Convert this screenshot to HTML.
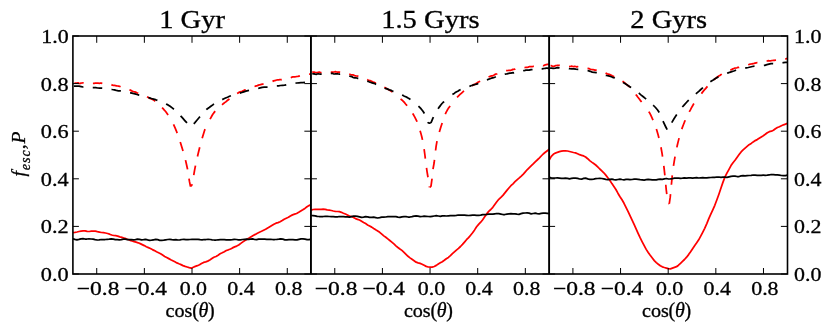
<!DOCTYPE html>
<html>
<head>
<meta charset="utf-8">
<title>f_esc, P versus cos(theta)</title>
<style>
html, body { margin: 0; padding: 0; background: #ffffff; }
body { width: 831px; height: 333px; overflow: hidden; font-family: "Liberation Serif", serif; }
svg { display: block; will-change: transform; }
svg text { font-family: "Liberation Serif", serif; fill: #000; stroke: #000; stroke-width: 0.3px; }
</style>
</head>
<body>
<svg width="831" height="333" viewBox="0 0 831 333">
<rect x="0" y="0" width="831" height="333" fill="#ffffff"/>
<defs>
<clipPath id="c0"><rect x="72.90" y="36.00" width="238.20" height="238.00"/></clipPath>
<clipPath id="c1"><rect x="310.95" y="36.00" width="238.20" height="238.00"/></clipPath>
<clipPath id="c2"><rect x="549.10" y="36.00" width="238.20" height="238.00"/></clipPath>
</defs>
<g fill="none" stroke-width="1.75" stroke-linejoin="round" stroke-linecap="butt">
<path d="M72.9 82.8 L73.9 82.9 L74.9 83.0 L75.9 83.1 L77.0 83.0 L78.0 82.8 L79.0 83.3 L80.0 83.5 L81.0 83.1 L82.0 83.0 L83.0 82.9 L84.1 83.0 L85.1 83.2 L86.1 83.1 L87.1 82.9 L88.1 82.9 L89.1 82.8 L90.1 82.9 L91.1 83.3 L92.2 83.4 L93.2 83.4 L94.2 83.3 L95.2 83.1 L96.2 83.1 L97.2 83.1 L98.2 83.2 L99.3 83.3 L100.3 83.2 L101.3 83.1 L102.3 83.5 L103.3 83.9 L104.3 83.7 L105.3 83.7 L106.4 84.2 L107.4 84.4 L108.4 84.2 L109.4 84.3 L110.4 84.4 L111.4 84.6 L112.4 85.1 L113.5 85.3 L114.5 85.4 L115.5 85.6 L116.5 85.8 L117.5 86.0 L118.5 86.1 L119.5 86.3 L120.5 86.7 L121.6 87.2 L122.6 87.5 L123.6 87.8 L124.6 88.1 L125.6 88.4 L126.6 88.8 L127.6 89.2 L128.7 89.6 L129.7 89.9 L130.7 90.4 L131.7 90.9 L132.7 91.3 L133.7 91.6 L134.7 91.8 L135.8 92.1 L136.8 92.8 L137.8 93.2 L138.8 93.5 L139.8 93.9 L140.8 94.3 L141.8 94.7 L142.9 95.1 L143.9 95.4 L144.9 95.8 L145.9 96.2 L146.9 96.7 L147.9 97.2 L148.9 97.8 L149.9 98.4 L151.0 98.8 L152.0 99.1 L153.0 99.6 L154.0 100.4 L155.0 101.1 L156.0 102.0 L157.0 102.8 L158.1 103.5 L159.1 104.4 L160.1 105.6 L161.1 106.6 L162.1 107.7 L163.1 108.7 L164.1 109.8 L165.2 111.0 L166.2 112.3 L167.2 113.7 L168.2 115.1 L169.2 116.7 L170.2 118.4" stroke="#ff0000" stroke-dasharray="9.5 9.4" stroke-dashoffset="17.38" clip-path="url(#c0)"/>
<path d="M170.2 118.4 L171.2 120.1 L172.3 121.9 L173.3 123.9 L174.3 126.1 L175.3 128.4 L176.3 130.8 L177.3 133.5 L178.3 136.3 L179.3 139.4 L180.4 142.5 L181.4 145.7 L182.4 149.0 L183.4 152.4 L184.4 155.8 L185.4 159.7 L186.4 164.0 L187.5 169.0 L188.5 175.6 L189.5 181.7 L190.5 186.6" stroke="#ff0000" stroke-dasharray="9.5 9.4" stroke-dashoffset="12.08" clip-path="url(#c0)"/>
<path d="M311.1 74.5 L310.1 74.2 L309.1 74.2 L308.1 74.6 L307.0 74.7 L306.0 75.0 L305.0 75.5 L304.0 75.8 L303.0 75.8 L302.0 75.7 L301.0 75.9 L300.0 76.0 L298.9 76.1 L297.9 76.4 L296.9 76.5 L295.9 76.7 L294.9 76.8 L293.9 76.9 L292.9 76.9 L291.8 77.2 L290.8 77.7 L289.8 78.0 L288.8 77.9 L287.8 77.8 L286.8 78.0 L285.8 78.5 L284.8 79.0 L283.7 79.1 L282.7 79.2 L281.7 79.6 L280.7 79.6 L279.7 79.7 L278.7 79.9 L277.7 79.9 L276.6 80.0 L275.6 80.4 L274.6 80.6 L273.6 80.9 L272.6 81.4 L271.6 81.9 L270.6 82.0 L269.5 82.0 L268.5 82.3 L267.5 82.7 L266.5 82.9 L265.5 83.3 L264.5 83.8 L263.5 84.0 L262.5 84.1 L261.4 84.4 L260.4 84.7 L259.4 84.8 L258.4 85.1 L257.4 85.6 L256.4 85.9 L255.4 86.2 L254.3 86.6 L253.3 87.1 L252.3 87.3 L251.3 87.5 L250.3 88.0 L249.3 88.5 L248.3 89.0 L247.3 89.4 L246.2 89.6 L245.2 89.9 L244.2 90.4 L243.2 90.9 L242.2 91.4 L241.2 91.6 L240.2 91.9 L239.1 92.4 L238.1 92.9 L237.1 93.5 L236.1 94.1 L235.1 94.8 L234.1 95.5 L233.1 96.2 L232.1 96.7 L231.0 97.4 L230.0 98.4 L229.0 99.2 L228.0 100.0 L227.0 100.8 L226.0 101.7 L225.0 102.4 L223.9 103.2 L222.9 104.0 L221.9 105.0 L220.9 105.9 L219.9 106.6 L218.9 107.4 L217.9 108.4 L216.8 109.4 L215.8 110.4 L214.8 111.6 L213.8 112.9 L212.8 114.3 L211.8 116.0 L210.8 117.8 L209.8 119.6 L208.7 121.4 L207.7 123.3" stroke="#ff0000" stroke-dasharray="9.5 9.4" stroke-dashoffset="7.46" clip-path="url(#c0)"/>
<path d="M207.7 123.3 L206.7 125.2 L205.7 127.5 L204.7 130.1 L203.7 133.2 L202.7 136.5 L201.6 140.1 L200.6 143.9 L199.6 147.7 L198.6 151.7 L197.6 156.0 L196.6 160.4 L195.6 165.1 L194.6 170.2 L193.5 176.4 L192.5 184.0 L191.5 185.6 L190.5 186.2" stroke="#ff0000" stroke-dasharray="9.5 9.4" stroke-dashoffset="12.47" clip-path="url(#c0)"/>
<path d="M72.9 232.6 L74.9 232.4 L77.0 232.0 L79.0 231.5 L81.1 231.1 L83.1 230.8 L85.1 230.9 L87.2 231.4 L89.2 231.5 L91.3 231.2 L93.3 231.1 L95.3 231.2 L97.4 231.7 L99.4 232.1 L101.5 232.5 L103.5 232.7 L105.5 233.0 L107.6 233.5 L109.6 234.2 L111.7 235.0 L113.7 235.5 L115.7 235.7 L117.8 236.1 L119.8 236.8 L121.9 237.4 L123.9 238.0 L125.9 238.7 L128.0 239.5 L130.0 240.3 L132.1 241.0 L134.1 241.6 L136.1 242.2 L138.2 242.8 L140.2 243.6 L142.2 244.6 L144.3 245.6 L146.3 246.7 L148.4 247.6 L150.4 248.5 L152.4 249.6 L154.5 250.6 L156.5 251.7 L158.6 252.7 L160.6 253.7 L162.6 255.0 L164.7 256.4 L166.7 257.5 L168.8 258.6 L170.8 259.7 L172.8 260.7 L174.9 261.8 L176.9 262.9 L179.0 263.8 L181.0 264.6 L183.0 265.6 L185.1 266.4 L187.1 267.0 L189.2 267.7 L191.2 268.2 L193.3 267.3 L195.3 266.4 L197.4 265.7 L199.5 264.8 L201.5 263.6 L203.6 262.4 L205.7 261.8 L207.7 261.1 L209.8 260.0 L211.9 258.6 L213.9 257.3 L216.0 256.5 L218.1 255.2 L220.1 253.8 L222.2 252.8 L224.3 251.7 L226.3 250.5 L228.4 249.8 L230.5 249.0 L232.5 247.9 L234.6 246.9 L236.7 246.1 L238.7 245.0 L240.8 243.4 L242.9 241.9 L244.9 240.5 L247.0 239.2 L249.1 238.0 L251.2 236.7 L253.2 235.5 L255.3 234.4 L257.4 233.2 L259.4 232.2 L261.5 231.3 L263.6 230.3 L265.6 229.3 L267.7 228.0 L269.8 226.8 L271.8 225.6 L273.9 224.3 L276.0 223.2 L278.0 222.6 L280.1 221.7 L282.2 220.5 L284.2 219.2 L286.3 218.2 L288.4 217.3 L290.4 216.0 L292.5 214.9 L294.6 214.2 L296.6 213.5 L298.7 212.3 L300.8 211.0 L302.8 209.8 L304.9 208.4 L307.0 206.7 L309.0 205.6 L311.1 204.6" stroke="#ff0000" clip-path="url(#c0)"/>
<path d="M311.1 72.2 L312.1 71.9 L313.1 72.1 L314.1 72.2 L315.2 72.4 L316.2 72.5 L317.2 72.5 L318.2 72.3 L319.2 72.1 L320.2 72.4 L321.3 72.7 L322.3 72.5 L323.3 72.2 L324.3 72.3 L325.3 72.4 L326.3 72.0 L327.4 72.0 L328.4 72.2 L329.4 72.2 L330.4 72.0 L331.4 72.0 L332.4 72.0 L333.5 72.0 L334.5 71.9 L335.5 71.7 L336.5 72.0 L337.5 72.2 L338.5 72.0 L339.6 72.2 L340.6 72.4 L341.6 72.4 L342.6 72.6 L343.6 72.8 L344.6 73.4 L345.7 73.9 L346.7 74.0 L347.7 73.9 L348.7 74.1 L349.7 74.3 L350.7 74.6 L351.8 74.8 L352.8 74.9 L353.8 75.2 L354.8 75.6 L355.8 75.9 L356.8 76.0 L357.9 76.2 L358.9 76.6 L359.9 77.0 L360.9 77.3 L361.9 77.6 L362.9 77.7 L364.0 78.0 L365.0 78.7 L366.0 79.2 L367.0 79.5 L368.0 80.0 L369.0 80.4 L370.1 80.7 L371.1 81.0 L372.1 81.5 L373.1 82.0 L374.1 82.4 L375.1 82.8 L376.1 83.2 L377.2 83.6 L378.2 84.2 L379.2 84.6 L380.2 85.0 L381.2 85.6 L382.2 86.3 L383.3 86.8 L384.3 87.2 L385.3 87.8 L386.3 88.4 L387.3 88.9 L388.3 89.5 L389.4 90.1 L390.4 90.7 L391.4 91.4 L392.4 92.1 L393.4 92.8 L394.4 93.5 L395.5 94.4 L396.5 95.3" stroke="#ff0000" stroke-dasharray="9.5 9.4" stroke-dashoffset="17.70" clip-path="url(#c1)"/>
<path d="M396.5 95.3 L397.5 96.1 L398.5 97.0 L399.5 97.9 L400.5 98.8 L401.6 99.8 L402.6 100.6 L403.6 101.6 L404.6 102.7 L405.6 104.0 L406.6 105.1 L407.7 106.2 L408.7 107.5 L409.7 109.0 L410.7 110.6 L411.7 112.1 L412.7 113.6 L413.8 115.3 L414.8 117.1 L415.8 119.1 L416.8 121.2 L417.8 123.7 L418.8 126.7 L419.9 130.0 L420.9 133.4 L421.9 137.2 L422.9 141.7 L423.9 147.5 L424.9 155.0 L426.0 164.1 L427.0 171.3 L428.0 177.4 L429.0 187.2" stroke="#ff0000" stroke-dasharray="9.5 9.4" stroke-dashoffset="13.43" clip-path="url(#c1)"/>
<path d="M549.3 64.2 L548.3 64.3 L547.3 64.4 L546.3 64.6 L545.3 64.9 L544.2 65.3 L543.2 65.6 L542.2 65.4 L541.2 65.3 L540.2 66.0 L539.2 66.1 L538.2 65.9 L537.2 66.0 L536.2 66.2 L535.1 66.1 L534.1 66.1 L533.1 66.4 L532.1 66.6 L531.1 66.6 L530.1 66.6 L529.1 66.7 L528.1 67.1 L527.1 67.3 L526.0 67.4 L525.0 67.5 L524.0 67.6 L523.0 67.6 L522.0 67.4 L521.0 67.6 L520.0 68.1 L519.0 68.2 L518.0 68.2 L517.0 68.4 L515.9 68.7 L514.9 69.2 L513.9 69.3 L512.9 69.4 L511.9 69.9 L510.9 70.3 L509.9 70.3 L508.9 70.3 L507.9 70.5 L506.8 70.6 L505.8 70.8 L504.8 71.1 L503.8 71.4 L502.8 72.0 L501.8 72.5 L500.8 72.8 L499.8 72.9 L498.8 73.2 L497.7 73.7 L496.7 74.0 L495.7 74.1 L494.7 74.6 L493.7 75.3 L492.7 75.8 L491.7 75.9 L490.7 76.1 L489.7 76.5 L488.6 77.0 L487.6 77.5 L486.6 78.1 L485.6 78.4 L484.6 78.8 L483.6 79.6 L482.6 80.1 L481.6 80.6 L480.6 81.1 L479.5 81.5 L478.5 82.0 L477.5 82.6 L476.5 83.3 L475.5 84.0 L474.5 84.4 L473.5 84.9 L472.5 85.4 L471.5 86.0 L470.4 86.6 L469.4 87.3 L468.4 88.0 L467.4 88.7 L466.4 89.3 L465.4 89.8 L464.4 90.6 L463.4 91.4 L462.4 92.3 L461.3 93.3 L460.3 94.2 L459.3 95.1 L458.3 96.1 L457.3 97.1 L456.3 98.1 L455.3 99.2 L454.3 100.4" stroke="#ff0000" stroke-dasharray="9.5 9.4" stroke-dashoffset="2.89" clip-path="url(#c1)"/>
<path d="M454.3 100.4 L453.3 101.7 L452.3 103.1 L451.2 104.4 L450.2 105.8 L449.2 107.2 L448.2 108.6 L447.2 110.3 L446.2 112.1 L445.2 114.2 L444.2 117.0 L443.2 120.1 L442.1 123.3 L441.1 126.3 L440.1 129.4 L439.1 132.8 L438.1 136.4 L437.1 140.6 L436.1 146.3 L435.1 154.6 L434.1 163.0 L433.0 169.2 L432.0 178.9 L431.0 186.2 L430.0 187.1 L429.0 187.2" stroke="#ff0000" stroke-dasharray="9.5 9.4" stroke-dashoffset="11.97" clip-path="url(#c1)"/>
<path d="M311.1 210.1 L313.1 209.5 L315.1 209.4 L317.2 209.4 L319.2 209.4 L321.2 209.4 L323.2 209.2 L325.2 209.3 L327.2 209.9 L329.3 210.2 L331.3 210.5 L333.3 211.0 L335.3 211.4 L337.3 211.5 L339.4 211.6 L341.4 212.3 L343.4 213.2 L345.4 214.0 L347.4 215.0 L349.5 216.0 L351.5 216.5 L353.5 217.4 L355.5 218.6 L357.5 219.3 L359.5 220.0 L361.6 221.3 L363.6 222.5 L365.6 223.6 L367.6 224.9 L369.6 226.0 L371.7 227.1 L373.7 228.5 L375.7 229.8 L377.7 231.0 L379.7 232.3 L381.8 234.1 L383.8 235.9 L385.8 237.3 L387.8 238.9 L389.8 240.5 L391.8 242.1 L393.9 243.9 L395.9 245.8 L397.9 247.5 L399.9 249.0 L401.9 250.4 L404.0 252.3 L406.0 254.3 L408.0 256.3 L410.0 257.9 L412.0 259.3 L414.1 260.8 L416.1 262.2 L418.1 262.9 L420.1 263.4 L422.1 264.2 L424.1 265.3 L426.2 266.4 L428.2 267.0 L430.2 267.2 L432.2 267.1 L434.2 266.5 L436.3 265.4 L438.3 264.0 L440.3 262.8 L442.3 261.7 L444.3 260.3 L446.3 258.7 L448.4 257.4 L450.4 255.7 L452.4 253.7 L454.4 251.9 L456.4 250.1 L458.5 248.4 L460.5 246.5 L462.5 244.4 L464.5 242.1 L466.5 239.7 L468.6 237.6 L470.6 235.2 L472.6 232.7 L474.6 229.9 L476.6 226.8 L478.6 224.4 L480.7 222.2 L482.7 219.7 L484.7 216.8 L486.7 213.9 L488.7 211.4 L490.8 209.5 L492.8 207.3 L494.8 204.6 L496.8 201.8 L498.8 199.3 L500.9 197.4 L502.9 195.4 L504.9 192.9 L506.9 190.4 L508.9 188.0 L510.9 185.7 L513.0 183.8 L515.0 181.7 L517.0 179.8 L519.0 178.1 L521.0 176.3 L523.1 174.3 L525.1 172.1 L527.1 169.8 L529.1 167.8 L531.1 165.9 L533.2 163.9 L535.2 161.8 L537.2 160.0 L539.2 158.1 L541.2 156.0 L543.2 154.0 L545.3 152.3 L547.3 150.7 L549.3 149.1" stroke="#ff0000" clip-path="url(#c1)"/>
<path d="M549.3 65.4 L550.3 65.6 L551.3 65.7 L552.3 66.1 L553.4 66.4 L554.4 66.1 L555.4 65.7 L556.4 65.5 L557.4 65.4 L558.4 65.3 L559.5 65.3 L560.5 65.5 L561.5 65.7 L562.5 65.8 L563.5 65.7 L564.5 65.6 L565.6 65.7 L566.6 66.1 L567.6 66.4 L568.6 66.4 L569.6 66.5 L570.6 66.4 L571.7 66.2 L572.7 66.5 L573.7 66.6 L574.7 66.3 L575.7 66.5 L576.7 66.8 L577.8 66.7 L578.8 66.8 L579.8 66.9 L580.8 66.9 L581.8 67.0 L582.8 67.1 L583.8 67.2 L584.9 67.5 L585.9 67.8 L586.9 68.2 L587.9 68.3 L588.9 68.5 L589.9 69.1 L591.0 69.4 L592.0 69.5 L593.0 69.5 L594.0 69.8 L595.0 70.1 L596.0 70.2 L597.1 70.4 L598.1 71.0 L599.1 71.4 L600.1 71.4 L601.1 71.7 L602.1 72.1 L603.2 72.4 L604.2 72.7 L605.2 72.9 L606.2 73.4 L607.2 73.9 L608.2 74.1 L609.2 74.4 L610.3 74.9 L611.3 75.4 L612.3 75.9 L613.3 76.3 L614.3 76.7 L615.3 77.2 L616.4 77.7 L617.4 78.1 L618.4 78.5 L619.4 79.2 L620.4 79.9 L621.4 80.6 L622.5 81.4 L623.5 81.9 L624.5 82.6 L625.5 83.6 L626.5 84.4 L627.5 85.2 L628.6 86.0 L629.6 86.9 L630.6 88.0 L631.6 89.3 L632.6 90.5 L633.6 91.7 L634.7 93.0 L635.7 94.3 L636.7 95.6 L637.7 97.0 L638.7 98.2 L639.7 99.5 L640.7 100.9 L641.8 102.3 L642.8 103.6 L643.8 104.8 L644.8 106.0" stroke="#ff0000" stroke-dasharray="9.5 9.4" stroke-dashoffset="17.62" clip-path="url(#c2)"/>
<path d="M644.8 106.0 L645.8 107.3 L646.8 108.5 L647.9 110.0 L648.9 111.7 L649.9 113.4 L650.9 115.4 L651.9 117.6 L652.9 119.8 L654.0 122.2 L655.0 124.9 L656.0 127.7 L657.0 130.9 L658.0 134.4 L659.0 138.4 L660.1 142.9 L661.1 148.0 L662.1 153.7 L663.1 160.4 L664.1 168.4 L665.1 177.5 L666.2 189.5 L667.2 197.4 L668.2 202.2 L669.2 204.2" stroke="#ff0000" stroke-dasharray="9.5 9.4" stroke-dashoffset="11.96" clip-path="url(#c2)"/>
<path d="M787.5 58.2 L786.5 58.6 L785.5 58.9 L784.5 58.9 L783.5 58.8 L782.4 59.1 L781.4 59.1 L780.4 59.1 L779.4 59.3 L778.4 59.7 L777.4 59.9 L776.4 60.0 L775.4 60.2 L774.4 60.4 L773.3 60.4 L772.3 60.5 L771.3 60.7 L770.3 60.8 L769.3 60.8 L768.3 60.7 L767.3 61.0 L766.3 61.2 L765.3 61.2 L764.2 61.4 L763.2 61.6 L762.2 61.7 L761.2 62.0 L760.2 62.4 L759.2 62.7 L758.2 62.7 L757.2 62.7 L756.2 62.8 L755.1 63.1 L754.1 63.4 L753.1 63.6 L752.1 63.8 L751.1 64.0 L750.1 64.2 L749.1 64.5 L748.1 64.8 L747.1 65.0 L746.0 65.2 L745.0 65.2 L744.0 65.4 L743.0 65.8 L742.0 66.3 L741.0 66.6 L740.0 67.0 L739.0 67.3 L738.0 67.4 L736.9 67.8 L735.9 68.0 L734.9 68.1 L733.9 68.5 L732.9 68.9 L731.9 69.4 L730.9 69.8 L729.9 70.1 L728.9 70.6 L727.8 71.2 L726.8 71.7 L725.8 72.1 L724.8 72.6 L723.8 73.2 L722.8 73.7 L721.8 74.1 L720.8 74.8 L719.8 75.5 L718.7 76.1 L717.7 76.7 L716.7 77.5 L715.7 78.4 L714.7 79.2 L713.7 80.0 L712.7 81.0 L711.7 81.9 L710.7 82.9 L709.6 84.0 L708.6 85.0 L707.6 86.2 L706.6 87.4 L705.6 88.6 L704.6 89.7 L703.6 90.8 L702.6 92.1 L701.6 93.4 L700.5 94.7 L699.5 96.0 L698.5 97.2 L697.5 98.5" stroke="#ff0000" stroke-dasharray="9.5 9.4" stroke-dashoffset="7.09" clip-path="url(#c2)"/>
<path d="M697.5 98.5 L696.5 99.9 L695.5 101.2 L694.5 102.6 L693.5 104.2 L692.5 106.0 L691.4 107.9 L690.4 109.8 L689.4 111.6 L688.4 113.4 L687.4 115.4 L686.4 117.5 L685.4 119.8 L684.4 122.2 L683.4 124.8 L682.3 127.6 L681.3 130.6 L680.3 133.9 L679.3 137.3 L678.3 141.1 L677.3 145.3 L676.3 149.9 L675.3 155.0 L674.3 160.8 L673.2 167.8 L672.2 176.0 L671.2 186.8 L670.2 197.4 L669.2 204.2" stroke="#ff0000" stroke-dasharray="9.5 9.4" stroke-dashoffset="12.74" clip-path="url(#c2)"/>
<path d="M549.3 159.8 L551.3 156.4 L553.3 154.3 L555.4 153.1 L557.4 152.3 L559.4 151.6 L561.4 151.1 L563.4 150.8 L565.4 150.8 L567.5 151.0 L569.5 151.5 L571.5 152.0 L573.5 152.5 L575.5 152.9 L577.6 153.7 L579.6 154.7 L581.6 155.3 L583.6 155.9 L585.6 157.0 L587.7 158.7 L589.7 160.6 L591.7 162.1 L593.7 163.5 L595.7 165.0 L597.7 166.9 L599.8 169.0 L601.8 170.9 L603.8 172.8 L605.8 175.1 L607.8 177.7 L609.9 180.5 L611.9 183.6 L613.9 186.5 L615.9 189.5 L617.9 193.2 L620.0 196.7 L622.0 199.8 L624.0 203.3 L626.0 207.4 L628.0 211.4 L630.0 215.7 L632.1 220.1 L634.1 224.4 L636.1 228.8 L638.1 233.3 L640.1 237.7 L642.2 241.8 L644.2 245.7 L646.2 249.4 L648.2 252.5 L650.2 255.3 L652.3 258.0 L654.3 260.6 L656.3 262.6 L658.3 264.2 L660.3 265.7 L662.3 266.8 L664.4 267.5 L666.4 268.1 L668.4 268.7 L670.4 268.8 L672.4 268.1 L674.5 267.4 L676.5 266.7 L678.5 265.2 L680.5 263.3 L682.5 261.4 L684.5 259.5 L686.6 257.2 L688.6 254.6 L690.6 251.8 L692.6 248.7 L694.6 245.7 L696.7 242.8 L698.7 239.8 L700.7 236.2 L702.7 232.3 L704.7 228.3 L706.8 223.6 L708.8 218.7 L710.8 214.2 L712.8 209.8 L714.8 205.3 L716.8 200.0 L718.9 194.2 L720.9 188.3 L722.9 182.4 L724.9 177.1 L726.9 173.1 L729.0 169.3 L731.0 165.6 L733.0 162.7 L735.0 160.3 L737.0 157.5 L739.1 154.6 L741.1 151.9 L743.1 149.9 L745.1 148.1 L747.1 146.4 L749.1 144.7 L751.2 143.4 L753.2 141.9 L755.2 140.6 L757.2 139.6 L759.2 138.3 L761.3 136.9 L763.3 135.7 L765.3 134.3 L767.3 132.7 L769.3 131.7 L771.4 131.2 L773.4 130.2 L775.4 128.7 L777.4 127.5 L779.4 126.7 L781.4 125.7 L783.5 124.8 L785.5 124.1 L787.5 123.2" stroke="#ff0000" clip-path="url(#c2)"/>
<path d="M72.9 86.0 L75.0 86.0 L77.0 86.0 L79.1 86.2 L81.2 86.6 L83.2 87.0 L85.3 86.9 L87.4 87.0 L89.4 87.3 L91.5 87.6 L93.6 87.6 L95.7 87.7 L97.7 88.0 L99.8 88.2 L101.9 88.2 L103.9 88.3 L106.0 88.4 L108.1 88.7 L110.1 89.0 L112.2 89.5 L114.3 89.9 L116.3 90.4 L118.4 90.8 L120.5 90.9 L122.5 91.0 L124.6 91.6 L126.7 92.2 L128.7 92.6 L130.8 92.9 L132.9 93.4 L135.0 93.8 L137.0 94.5 L139.1 95.1 L141.2 95.5 L143.2 96.1 L145.3 96.7 L147.4 97.2 L149.4 97.8 L151.5 98.5 L153.6 99.1 L155.6 99.7 L157.7 100.5 L159.8 101.3 L161.8 102.0 L163.9 102.9 L166.0 103.9 L168.0 104.9 L170.1 106.3 L172.2 107.9 L174.3 109.5 L176.3 111.5 L178.4 113.6 L180.5 115.7 L182.5 117.9 L184.6 120.3 L186.7 122.7 L188.7 125.1 L190.8 127.5" stroke="#000000" stroke-dasharray="9.5 9.4" stroke-dashoffset="17.80" clip-path="url(#c0)"/>
<path d="M311.1 81.5 L309.1 81.9 L307.0 82.1 L305.0 82.3 L302.9 82.6 L300.9 82.7 L298.9 82.8 L296.8 83.0 L294.8 83.2 L292.7 83.6 L290.7 83.9 L288.7 84.2 L286.6 84.7 L284.6 85.1 L282.6 85.3 L280.5 85.5 L278.5 85.9 L276.4 86.0 L274.4 86.0 L272.4 86.4 L270.3 86.9 L268.3 87.0 L266.2 87.0 L264.2 87.2 L262.2 87.4 L260.1 87.9 L258.1 88.5 L256.0 88.9 L254.0 89.4 L252.0 89.9 L249.9 90.3 L247.9 90.7 L245.9 91.2 L243.8 91.8 L241.8 92.5 L239.7 93.1 L237.7 93.5 L235.7 94.0 L233.6 94.7 L231.6 95.5 L229.5 96.3 L227.5 97.2 L225.5 98.0 L223.4 99.0 L221.4 100.1 L219.3 101.0 L217.3 102.0 L215.3 103.2 L213.2 104.6 L211.2 106.0 L209.2 107.5 L207.1 109.0 L205.1 110.9 L203.0 113.2 L201.0 115.4 L199.0 117.7 L196.9 120.2 L194.9 122.6 L192.8 125.0 L190.8 127.4" stroke="#000000" stroke-dasharray="9.5 9.4" stroke-dashoffset="12.70" clip-path="url(#c0)"/>
<path d="M72.9 238.8 L74.9 239.4 L76.9 239.9 L79.0 239.4 L81.0 238.8 L83.0 238.7 L85.0 239.0 L87.0 239.0 L89.0 238.9 L91.1 239.0 L93.1 239.2 L95.1 239.7 L97.1 240.0 L99.1 239.8 L101.2 239.5 L103.2 239.5 L105.2 239.5 L107.2 239.3 L109.2 239.2 L111.3 238.9 L113.3 239.1 L115.3 239.6 L117.3 239.7 L119.3 239.8 L121.3 239.7 L123.4 239.1 L125.4 239.2 L127.4 239.6 L129.4 239.7 L131.4 239.7 L133.5 239.9 L135.5 239.7 L137.5 239.2 L139.5 239.4 L141.5 239.9 L143.6 239.7 L145.6 239.4 L147.6 239.9 L149.6 240.3 L151.6 240.2 L153.6 239.8 L155.7 239.4 L157.7 239.7 L159.7 240.3 L161.7 240.3 L163.7 240.1 L165.8 239.8 L167.8 239.5 L169.8 239.3 L171.8 239.6 L173.8 239.8 L175.9 239.7 L177.9 240.0 L179.9 239.9 L181.9 239.5 L183.9 239.4 L185.9 239.6 L188.0 239.6 L190.0 239.5 L192.0 239.4 L194.0 239.4 L196.0 239.3 L198.1 239.3 L200.1 239.7 L202.1 239.8 L204.1 239.5 L206.1 239.5 L208.1 239.4 L210.2 239.5 L212.2 239.8 L214.2 240.0 L216.2 240.0 L218.2 239.8 L220.3 239.7 L222.3 239.6 L224.3 239.6 L226.3 239.8 L228.3 239.8 L230.4 239.8 L232.4 239.6 L234.4 239.3 L236.4 239.5 L238.4 239.8 L240.4 239.8 L242.5 239.5 L244.5 239.3 L246.5 239.2 L248.5 239.4 L250.5 239.1 L252.6 238.9 L254.6 239.5 L256.6 239.7 L258.6 239.2 L260.6 239.0 L262.7 239.1 L264.7 239.2 L266.7 239.4 L268.7 239.3 L270.7 239.3 L272.7 239.5 L274.8 239.5 L276.8 239.4 L278.8 239.2 L280.8 238.8 L282.8 239.1 L284.9 239.8 L286.9 239.8 L288.9 239.6 L290.9 239.6 L292.9 239.6 L295.0 239.8 L297.0 239.9 L299.0 239.3 L301.0 238.8 L303.0 238.8 L305.0 239.1 L307.1 239.6 L309.1 239.7 L311.1 239.1" stroke="#000000" clip-path="url(#c0)"/>
<path d="M311.1 74.1 L312.1 74.0 L313.1 73.8 L314.1 73.9 L315.2 74.2 L316.2 74.3 L317.2 74.0 L318.2 73.8 L319.2 74.0 L320.2 74.1 L321.3 74.1 L322.3 74.0 L323.3 73.7 L324.3 73.6 L325.3 73.8 L326.3 74.0 L327.3 73.9 L328.4 73.4 L329.4 73.4 L330.4 73.6 L331.4 73.4 L332.4 73.4 L333.4 73.8 L334.5 74.0 L335.5 73.8 L336.5 73.8 L337.5 73.9 L338.5 74.0 L339.5 74.1 L340.5 74.0 L341.6 74.1 L342.6 74.4 L343.6 74.7 L344.6 75.0 L345.6 75.2 L346.6 75.3 L347.6 75.6 L348.7 75.9 L349.7 76.2 L350.7 76.3 L351.7 76.6 L352.7 77.2 L353.7 77.7 L354.8 77.9 L355.8 77.8 L356.8 78.0 L357.8 78.4 L358.8 78.5 L359.8 78.6 L360.8 79.0 L361.9 79.4 L362.9 79.5 L363.9 79.7 L364.9 80.1 L365.9 80.6 L366.9 81.0 L368.0 81.3 L369.0 81.8 L370.0 82.2 L371.0 82.5 L372.0 82.8 L373.0 83.1 L374.0 83.4 L375.1 83.8 L376.1 84.4 L377.1 84.7 L378.1 85.0 L379.1 85.4 L380.1 85.9 L381.2 86.3 L382.2 86.5 L383.2 86.9 L384.2 87.6 L385.2 88.3 L386.2 88.6 L387.2 88.9 L388.3 89.4 L389.3 89.9 L390.3 90.1 L391.3 90.4 L392.3 91.0 L393.3 91.4 L394.4 91.7 L395.4 92.1 L396.4 92.7 L397.4 93.2 L398.4 93.5 L399.4 93.7 L400.4 94.0 L401.5 94.6 L402.5 95.1 L403.5 95.7 L404.5 96.2 L405.5 96.6 L406.5 97.0 L407.5 97.7 L408.6 98.3 L409.6 98.9 L410.6 99.6 L411.6 100.2 L412.6 100.9 L413.6 101.9 L414.7 102.8" stroke="#000000" stroke-dasharray="9.5 9.4" stroke-dashoffset="17.71" clip-path="url(#c1)"/>
<path d="M414.7 102.8 L415.7 103.7 L416.7 104.6 L417.7 105.4 L418.7 106.3 L419.7 107.3 L420.7 108.4 L421.8 109.7 L422.8 111.0 L423.8 112.5 L424.8 114.2 L425.8 116.5 L426.8 119.1 L427.9 122.4 L428.9 123.0 L429.9 123.0 L430.9 122.7" stroke="#000000" stroke-dasharray="9.5 9.4" stroke-dashoffset="13.91" clip-path="url(#c1)"/>
<path d="M549.3 68.1 L548.3 68.4 L547.3 68.2 L546.3 68.1 L545.3 68.3 L544.2 68.5 L543.2 68.7 L542.2 68.9 L541.2 68.9 L540.2 68.7 L539.2 68.6 L538.2 68.9 L537.2 69.2 L536.1 69.2 L535.1 69.4 L534.1 69.8 L533.1 69.9 L532.1 69.7 L531.1 69.6 L530.1 69.9 L529.1 70.2 L528.0 70.2 L527.0 70.0 L526.0 70.1 L525.0 70.4 L524.0 70.6 L523.0 70.8 L522.0 71.1 L521.0 71.2 L520.0 71.3 L518.9 71.6 L517.9 71.7 L516.9 71.7 L515.9 72.2 L514.9 72.7 L513.9 72.9 L512.9 72.7 L511.9 72.8 L510.8 73.1 L509.8 73.2 L508.8 73.4 L507.8 73.6 L506.8 73.9 L505.8 74.0 L504.8 74.0 L503.8 74.4 L502.7 75.0 L501.7 75.3 L500.7 75.4 L499.7 75.6 L498.7 75.9 L497.7 76.1 L496.7 76.3 L495.7 76.8 L494.7 77.2 L493.6 77.6 L492.6 77.9 L491.6 78.2 L490.6 78.5 L489.6 78.9 L488.6 79.2 L487.6 79.6 L486.6 79.9 L485.5 80.1 L484.5 80.6 L483.5 81.1 L482.5 81.4 L481.5 81.8 L480.5 82.2 L479.5 82.6 L478.5 83.2 L477.5 83.9 L476.4 84.2 L475.4 84.5 L474.4 84.7 L473.4 84.9 L472.4 85.3 L471.4 85.5 L470.4 86.0 L469.4 86.6 L468.3 86.9 L467.3 87.2 L466.3 87.6 L465.3 87.9 L464.3 88.5 L463.3 89.0 L462.3 89.2 L461.3 89.5 L460.2 89.8 L459.2 90.3 L458.2 91.0 L457.2 91.5 L456.2 92.0 L455.2 92.6 L454.2 93.4 L453.2 94.0 L452.2 94.6 L451.1 95.3 L450.1 96.0 L449.1 96.7 L448.1 97.7" stroke="#000000" stroke-dasharray="9.5 9.4" stroke-dashoffset="1.70" clip-path="url(#c1)"/>
<path d="M448.1 97.7 L447.1 98.6 L446.1 99.4 L445.1 100.5 L444.1 101.6 L443.0 102.5 L442.0 103.5 L441.0 104.8 L440.0 106.1 L439.0 107.4 L438.0 108.9 L437.0 110.5 L436.0 112.3 L434.9 114.2 L433.9 116.1 L432.9 118.2 L431.9 120.6 L430.9 123.0" stroke="#000000" stroke-dasharray="9.5 9.4" stroke-dashoffset="13.33" clip-path="url(#c1)"/>
<path d="M311.1 215.5 L313.1 215.6 L315.1 215.9 L317.2 216.4 L319.2 216.5 L321.2 216.5 L323.2 216.5 L325.2 216.4 L327.2 216.4 L329.3 216.5 L331.3 216.6 L333.3 216.6 L335.3 216.9 L337.3 216.8 L339.4 216.5 L341.4 216.5 L343.4 216.6 L345.4 216.8 L347.4 216.9 L349.5 217.1 L351.5 216.6 L353.5 216.1 L355.5 216.2 L357.5 216.3 L359.5 216.8 L361.6 217.4 L363.6 217.1 L365.6 216.6 L367.6 216.8 L369.6 217.4 L371.7 217.3 L373.7 217.2 L375.7 217.6 L377.7 218.0 L379.7 217.7 L381.8 217.2 L383.8 217.1 L385.8 217.0 L387.8 216.6 L389.8 216.5 L391.8 216.6 L393.9 216.6 L395.9 216.7 L397.9 217.2 L399.9 217.4 L401.9 216.9 L404.0 216.6 L406.0 216.7 L408.0 217.0 L410.0 217.0 L412.0 216.6 L414.1 216.1 L416.1 215.9 L418.1 216.2 L420.1 216.6 L422.1 216.5 L424.1 216.2 L426.2 216.3 L428.2 216.5 L430.2 216.6 L432.2 216.3 L434.2 216.0 L436.3 215.7 L438.3 216.0 L440.3 216.3 L442.3 215.8 L444.3 215.8 L446.3 216.0 L448.4 215.8 L450.4 215.6 L452.4 215.7 L454.4 215.7 L456.4 215.4 L458.5 215.0 L460.5 215.0 L462.5 215.0 L464.5 215.1 L466.5 215.3 L468.6 215.5 L470.6 215.3 L472.6 215.1 L474.6 215.2 L476.6 215.4 L478.6 215.4 L480.7 215.2 L482.7 214.7 L484.7 214.6 L486.7 214.5 L488.7 214.2 L490.8 214.2 L492.8 214.2 L494.8 213.8 L496.8 213.5 L498.8 213.7 L500.9 214.1 L502.9 214.5 L504.9 214.5 L506.9 214.1 L508.9 213.8 L510.9 213.7 L513.0 213.8 L515.0 213.9 L517.0 214.2 L519.0 214.4 L521.0 213.7 L523.1 213.1 L525.1 213.0 L527.1 212.9 L529.1 213.2 L531.1 213.8 L533.2 213.5 L535.2 213.2 L537.2 213.6 L539.2 213.8 L541.2 213.4 L543.2 213.1 L545.3 213.2 L547.3 213.4 L549.3 213.7" stroke="#000000" clip-path="url(#c1)"/>
<path d="M549.3 68.0 L551.3 68.1 L553.4 68.3 L555.4 68.1 L557.5 67.7 L559.5 67.8 L561.6 68.2 L563.6 68.3 L565.6 68.1 L567.7 68.3 L569.7 68.7 L571.8 68.9 L573.8 68.9 L575.9 69.2 L577.9 69.3 L579.9 69.3 L582.0 69.8 L584.0 70.3 L586.1 70.4 L588.1 70.6 L590.2 71.3 L592.2 72.1 L594.2 72.4 L596.3 72.7 L598.3 73.3 L600.4 73.7 L602.4 74.3 L604.5 75.0 L606.5 75.5 L608.5 75.9 L610.6 76.5 L612.6 77.3 L614.7 78.0 L616.7 79.0 L618.8 80.4 L620.8 81.5 L622.9 82.5 L624.9 83.5 L626.9 84.8 L629.0 86.2 L631.0 87.5 L633.1 88.8 L635.1 90.3 L637.2 91.8 L639.2 93.4 L641.2 95.1 L643.3 96.8 L645.3 98.4 L647.4 99.9 L649.4 101.7 L651.5 103.6 L653.5 105.5 L655.5 107.5 L657.6 110.0 L659.6 113.0 L661.7 117.7 L663.7 122.7 L665.8 127.0 L667.8 130.9" stroke="#000000" stroke-dasharray="9.5 9.4" stroke-dashoffset="18.12" clip-path="url(#c2)"/>
<path d="M787.5 62.3 L785.4 62.4 L783.4 62.6 L781.3 63.0 L779.2 63.2 L777.2 63.4 L775.1 63.7 L773.1 63.6 L771.0 63.7 L768.9 64.2 L766.9 64.7 L764.8 65.3 L762.7 65.5 L760.7 65.7 L758.6 66.0 L756.5 66.1 L754.5 66.2 L752.4 66.5 L750.4 67.0 L748.3 67.5 L746.2 67.9 L744.2 68.4 L742.1 69.2 L740.0 69.6 L738.0 69.6 L735.9 70.2 L733.8 71.0 L731.8 71.6 L729.7 72.3 L727.6 73.1 L725.6 74.0 L723.5 74.9 L721.5 75.7 L719.4 76.4 L717.3 77.4 L715.3 78.5 L713.2 79.9 L711.1 81.2 L709.1 82.6 L707.0 84.2 L704.9 85.9 L702.9 87.7 L700.8 89.5 L698.8 91.4 L696.7 93.2 L694.6 95.0 L692.6 96.7 L690.5 98.5 L688.4 100.4 L686.4 102.5 L684.3 104.8 L682.2 107.2 L680.2 109.8 L678.1 112.6 L676.1 115.5 L674.0 118.7 L671.9 122.4 L669.9 126.5 L667.8 131.0" stroke="#000000" stroke-dasharray="9.5 9.4" stroke-dashoffset="4.46" clip-path="url(#c2)"/>
<path d="M549.3 177.4 L551.3 177.8 L553.3 178.1 L555.4 178.0 L557.4 177.8 L559.4 178.1 L561.4 178.4 L563.4 178.3 L565.4 178.1 L567.5 178.3 L569.5 178.8 L571.5 178.4 L573.5 178.1 L575.5 178.1 L577.6 178.4 L579.6 179.0 L581.6 179.2 L583.6 178.4 L585.6 178.2 L587.7 178.9 L589.7 179.3 L591.7 179.3 L593.7 179.1 L595.7 178.7 L597.7 178.5 L599.8 178.3 L601.8 178.5 L603.8 178.9 L605.8 179.3 L607.8 179.6 L609.9 179.3 L611.9 179.1 L613.9 179.6 L615.9 179.9 L617.9 179.5 L620.0 179.1 L622.0 179.5 L624.0 179.8 L626.0 179.4 L628.0 179.3 L630.0 179.7 L632.1 179.5 L634.1 179.2 L636.1 179.2 L638.1 179.3 L640.1 179.6 L642.2 179.8 L644.2 180.1 L646.2 179.7 L648.2 179.3 L650.2 179.6 L652.3 179.9 L654.3 179.9 L656.3 179.8 L658.3 179.3 L660.3 179.2 L662.3 179.3 L664.4 178.8 L666.4 178.5 L668.4 179.0 L670.4 178.9 L672.4 178.6 L674.5 178.2 L676.5 178.0 L678.5 178.1 L680.5 178.4 L682.5 178.2 L684.5 177.9 L686.6 178.1 L688.6 177.9 L690.6 177.8 L692.6 178.1 L694.6 177.9 L696.7 177.7 L698.7 178.0 L700.7 177.8 L702.7 177.7 L704.7 177.9 L706.8 177.9 L708.8 177.7 L710.8 177.5 L712.8 177.4 L714.8 177.3 L716.8 177.0 L718.9 177.0 L720.9 177.4 L722.9 177.2 L724.9 177.1 L726.9 177.3 L729.0 176.8 L731.0 176.3 L733.0 176.2 L735.0 176.1 L737.0 176.5 L739.1 176.5 L741.1 175.9 L743.1 175.6 L745.1 175.8 L747.1 175.6 L749.1 175.5 L751.2 175.4 L753.2 175.0 L755.2 175.1 L757.2 175.3 L759.2 175.4 L761.3 175.3 L763.3 175.1 L765.3 175.3 L767.3 175.2 L769.3 174.8 L771.4 174.5 L773.4 174.7 L775.4 174.9 L777.4 174.9 L779.4 175.1 L781.4 175.5 L783.5 175.7 L785.5 175.6 L787.5 175.0" stroke="#000000" clip-path="url(#c2)"/>
</g>
<g fill="none" stroke="#000" stroke-width="1.00" shape-rendering="geometricPrecision">
<path d="M96.72 274.00 v-6.00 M96.72 36.00 v6.80 M144.36 274.00 v-6.00 M144.36 36.00 v6.80 M192.00 274.00 v-6.00 M192.00 36.00 v6.80 M239.64 274.00 v-6.00 M239.64 36.00 v6.80 M287.28 274.00 v-6.00 M287.28 36.00 v6.80 M72.90 274.00 h6.00 M310.95 274.00 h-6.60 M72.90 226.40 h6.00 M310.95 226.40 h-6.60 M72.90 178.80 h6.00 M310.95 178.80 h-6.60 M72.90 131.20 h6.00 M310.95 131.20 h-6.60 M72.90 83.60 h6.00 M310.95 83.60 h-6.60 M72.90 36.00 h6.00 M310.95 36.00 h-6.60 M334.77 274.00 v-6.00 M334.77 36.00 v6.80 M382.41 274.00 v-6.00 M382.41 36.00 v6.80 M430.05 274.00 v-6.00 M430.05 36.00 v6.80 M477.69 274.00 v-6.00 M477.69 36.00 v6.80 M525.33 274.00 v-6.00 M525.33 36.00 v6.80 M310.95 274.00 h6.00 M549.10 274.00 h-6.60 M310.95 226.40 h6.00 M549.10 226.40 h-6.60 M310.95 178.80 h6.00 M549.10 178.80 h-6.60 M310.95 131.20 h6.00 M549.10 131.20 h-6.60 M310.95 83.60 h6.00 M549.10 83.60 h-6.60 M310.95 36.00 h6.00 M549.10 36.00 h-6.60 M572.92 274.00 v-6.00 M572.92 36.00 v6.80 M620.56 274.00 v-6.00 M620.56 36.00 v6.80 M668.20 274.00 v-6.00 M668.20 36.00 v6.80 M715.84 274.00 v-6.00 M715.84 36.00 v6.80 M763.48 274.00 v-6.00 M763.48 36.00 v6.80 M549.10 274.00 h6.00 M787.50 274.00 h-6.60 M549.10 226.40 h6.00 M787.50 226.40 h-6.60 M549.10 178.80 h6.00 M787.50 178.80 h-6.60 M549.10 131.20 h6.00 M787.50 131.20 h-6.60 M549.10 83.60 h6.00 M787.50 83.60 h-6.60 M549.10 36.00 h6.00 M787.50 36.00 h-6.60"/>
</g>
<g fill="none" stroke="#000" stroke-width="1.6" stroke-linejoin="miter">
<rect x="72.90" y="36.00" width="714.60" height="238.00"/>
<path d="M310.95 36.00 V274.00" stroke-width="1.9"/>
<path d="M549.10 36.00 V274.00" stroke-width="1.9"/>
</g>
<g font-size="19.6px">
<text x="68.70" y="281.00" text-anchor="end" textLength="27.9" lengthAdjust="spacingAndGlyphs">0.0</text>
<text x="794.00" y="281.00" textLength="27.4" lengthAdjust="spacingAndGlyphs">0.0</text>
<text x="68.70" y="233.40" text-anchor="end" textLength="27.9" lengthAdjust="spacingAndGlyphs">0.2</text>
<text x="794.00" y="233.40" textLength="27.4" lengthAdjust="spacingAndGlyphs">0.2</text>
<text x="68.70" y="185.80" text-anchor="end" textLength="27.9" lengthAdjust="spacingAndGlyphs">0.4</text>
<text x="794.00" y="185.80" textLength="27.4" lengthAdjust="spacingAndGlyphs">0.4</text>
<text x="68.70" y="138.20" text-anchor="end" textLength="27.9" lengthAdjust="spacingAndGlyphs">0.6</text>
<text x="794.00" y="138.20" textLength="27.4" lengthAdjust="spacingAndGlyphs">0.6</text>
<text x="68.70" y="90.60" text-anchor="end" textLength="27.9" lengthAdjust="spacingAndGlyphs">0.8</text>
<text x="794.00" y="90.60" textLength="27.4" lengthAdjust="spacingAndGlyphs">0.8</text>
<text x="68.70" y="43.00" text-anchor="end" textLength="27.4" lengthAdjust="spacingAndGlyphs">1.0</text>
<text x="794.00" y="43.00" textLength="27.4" lengthAdjust="spacingAndGlyphs">1.0</text>
<text x="98.12" y="294.50" text-anchor="middle" textLength="42.6" lengthAdjust="spacingAndGlyphs">−0.8</text>
<text x="145.76" y="294.50" text-anchor="middle" textLength="42.6" lengthAdjust="spacingAndGlyphs">−0.4</text>
<text x="193.40" y="294.50" text-anchor="middle" textLength="27.4" lengthAdjust="spacingAndGlyphs">0.0</text>
<text x="241.04" y="294.50" text-anchor="middle" textLength="27.4" lengthAdjust="spacingAndGlyphs">0.4</text>
<text x="288.68" y="294.50" text-anchor="middle" textLength="27.4" lengthAdjust="spacingAndGlyphs">0.8</text>
<text x="336.17" y="294.50" text-anchor="middle" textLength="42.6" lengthAdjust="spacingAndGlyphs">−0.8</text>
<text x="383.81" y="294.50" text-anchor="middle" textLength="42.6" lengthAdjust="spacingAndGlyphs">−0.4</text>
<text x="431.45" y="294.50" text-anchor="middle" textLength="27.4" lengthAdjust="spacingAndGlyphs">0.0</text>
<text x="479.09" y="294.50" text-anchor="middle" textLength="27.4" lengthAdjust="spacingAndGlyphs">0.4</text>
<text x="526.73" y="294.50" text-anchor="middle" textLength="27.4" lengthAdjust="spacingAndGlyphs">0.8</text>
<text x="574.32" y="294.50" text-anchor="middle" textLength="42.6" lengthAdjust="spacingAndGlyphs">−0.8</text>
<text x="621.96" y="294.50" text-anchor="middle" textLength="42.6" lengthAdjust="spacingAndGlyphs">−0.4</text>
<text x="669.60" y="294.50" text-anchor="middle" textLength="27.4" lengthAdjust="spacingAndGlyphs">0.0</text>
<text x="717.24" y="294.50" text-anchor="middle" textLength="27.4" lengthAdjust="spacingAndGlyphs">0.4</text>
<text x="764.88" y="294.50" text-anchor="middle" textLength="27.4" lengthAdjust="spacingAndGlyphs">0.8</text>
</g>
<g font-size="24.5px">
<text x="159.20" y="27.7" textLength="65.8" lengthAdjust="spacingAndGlyphs">1 Gyr</text>
<text x="381.20" y="27.7" textLength="98.4" lengthAdjust="spacingAndGlyphs">1.5 Gyrs</text>
<text x="630.30" y="27.7" textLength="76.7" lengthAdjust="spacingAndGlyphs">2 Gyrs</text>
</g>
<g font-size="20px" style="stroke:none">
<text x="165.60" y="316.5" font-size="17.8px" textLength="26.8" lengthAdjust="spacingAndGlyphs">cos</text>
<text x="192.20" y="316.5" textLength="22.5" lengthAdjust="spacing">(<tspan font-style="italic">θ</tspan>)</text>
<text x="403.90" y="316.5" font-size="17.8px" textLength="26.8" lengthAdjust="spacingAndGlyphs">cos</text>
<text x="430.50" y="316.5" textLength="22.5" lengthAdjust="spacing">(<tspan font-style="italic">θ</tspan>)</text>
<text x="642.00" y="316.5" font-size="17.8px" textLength="26.8" lengthAdjust="spacingAndGlyphs">cos</text>
<text x="668.60" y="316.5" textLength="22.5" lengthAdjust="spacing">(<tspan font-style="italic">θ</tspan>)</text>
</g>
<g font-size="19.6px" font-style="italic" transform="translate(24.9 176.6) rotate(-90)">
<text x="0" y="0" textLength="45.2" lengthAdjust="spacing">f<tspan font-size="14px" dy="5.4">esc</tspan><tspan dy="-5.4">,</tspan>P</text>
</g>
</svg>
</body>
</html>
